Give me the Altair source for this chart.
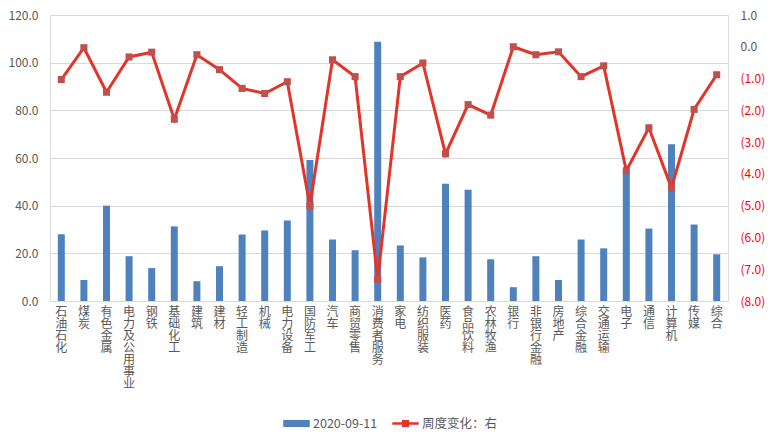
import altair as alt
import pandas as pd

categories = ["石油石化", "煤炭", "有色金属", "电力及公用事业", "钢铁", "基础化工", "建筑", "建材",
              "轻工制造", "机械", "电力设备", "国防军工", "汽车", "商贸零售", "消费者服务", "家电",
              "纺织服装", "医药", "食品饮料", "农林牧渔", "银行", "非银行金融", "房地产", "综合金融",
              "交通运输", "电子", "通信", "计算机", "传媒", "综合"]
values = [28.0, 8.8, 40.0, 18.8, 13.8, 31.3, 8.3, 14.6, 27.9, 29.6, 33.8, 59.2, 25.8, 21.3, 108.8,
          23.3, 18.3, 49.2, 46.7, 17.5, 5.8, 18.8, 8.8, 25.8, 22.1, 53.8, 30.4, 65.8, 32.1, 19.6]
changes = [-1.03, -0.03, -1.43, -0.32, -0.17, -2.28, -0.25, -0.72, -1.31, -1.47, -1.10, -5.00, -0.41,
           -0.94, -7.32, -0.94, -0.51, -3.37, -1.82, -2.15, 0.0, -0.25, -0.16, -0.94, -0.60, -3.90,
           -2.55, -4.44, -1.97, -0.88]
series = ["2020-09-11", "周度变化：右"]
left_ticks = [0, 20, 40, 60, 80, 100, 120]
right_ticks = [1, 0, -1, -2, -3, -4, -5, -6, -7, -8]

BLUE = "#4f81bd"
RED = "#e3342a"
MARK = "#c0504d"
GREY = "#595959"
FONT = "Noto Sans CJK SC"

df = pd.DataFrame({"industry": categories, "value": values, "change": changes})
leg_df = pd.DataFrame({"s": series})

xenc = alt.X("industry:N", sort=categories,
             scale=alt.Scale(domain=categories, paddingInner=0, paddingOuter=0),
             axis=alt.Axis(title=None, labelAngle=0, labelExpr="split(datum.label, '')",
                           labelAlign="center", labelBaseline="top", labelFontSize=12,
                           labelLineHeight=12, labelColor=GREY, labelFont=FONT, labelPadding=5,
                           ticks=False, domainColor="#d9d9d9", grid=False, labelOverlap=False))

bars = alt.Chart(df).mark_bar(size=7, color=BLUE).encode(
    x=xenc,
    y=alt.Y("value:Q", scale=alt.Scale(domain=[0, 120], nice=False),
            axis=alt.Axis(title=None, values=left_ticks, format=".1f", ticks=False, domain=False,
                          gridColor="#d9d9d9", labelColor=GREY, labelFont=FONT, labelFontSize=12,
                          labelPadding=12)),
)

right_y = alt.Y("change:Q", scale=alt.Scale(domain=[-8, 1], nice=False),
                axis=alt.Axis(title=None, orient="right", values=right_ticks, grid=False, ticks=False,
                              domain=False, labelFont=FONT, labelFontSize=12, labelPadding=12,
                              labelExpr="datum.value < 0 ? '(' + format(-datum.value, '.1f') + ')' : format(datum.value, '.1f')",
                              labelColor={"condition": {"test": "datum.value < 0", "value": "#ff0000"},
                                          "value": GREY}))

line = alt.Chart(df).mark_line(color=RED, strokeWidth=3).encode(x=xenc, y=right_y)
pts = alt.Chart(df).mark_point(shape="square", filled=True, color=MARK, size=50, opacity=1).encode(x=xenc, y=right_y)

leg_props = dict(title=None, orient="none", direction="horizontal", legendX=233, legendY=395,
                 labelFont=FONT, labelFontSize=12.5, labelColor=GREY, symbolSize=700,
                 symbolStrokeWidth=0, labelOffset=3, columnPadding=14, padding=0)
legend_layer = alt.Chart(leg_df).transform_filter("false").mark_point(filled=True, opacity=1).encode(
    x=alt.value(0), y=alt.value(0),
    color=alt.Color("s:N", scale=alt.Scale(domain=series, range=[BLUE, RED]),
                    legend=alt.Legend(**leg_props)),
    shape=alt.Shape("s:N", scale=alt.Scale(domain=series, range=[
        "M-1,-0.27H1V0.27H-1Z",
        "M-1,-0.1H1V0.1H-1Z M-0.27,-0.27H0.27V0.27H-0.27Z"]),
        legend=alt.Legend(**leg_props)),
)

left_layer = alt.layer(bars, legend_layer)
right_layer = alt.layer(line, pts)

chart = alt.layer(left_layer, right_layer).resolve_scale(y="independent").properties(
    width=678, height=286,
    autosize=alt.AutoSizeParams(type="none"),
    padding={"left": 42, "top": 7, "right": 42, "bottom": 130},
).configure_view(stroke=None).configure(font=FONT, background="white")

chart.save("out.html", embed_options={"renderer": "svg", "actions": False})
